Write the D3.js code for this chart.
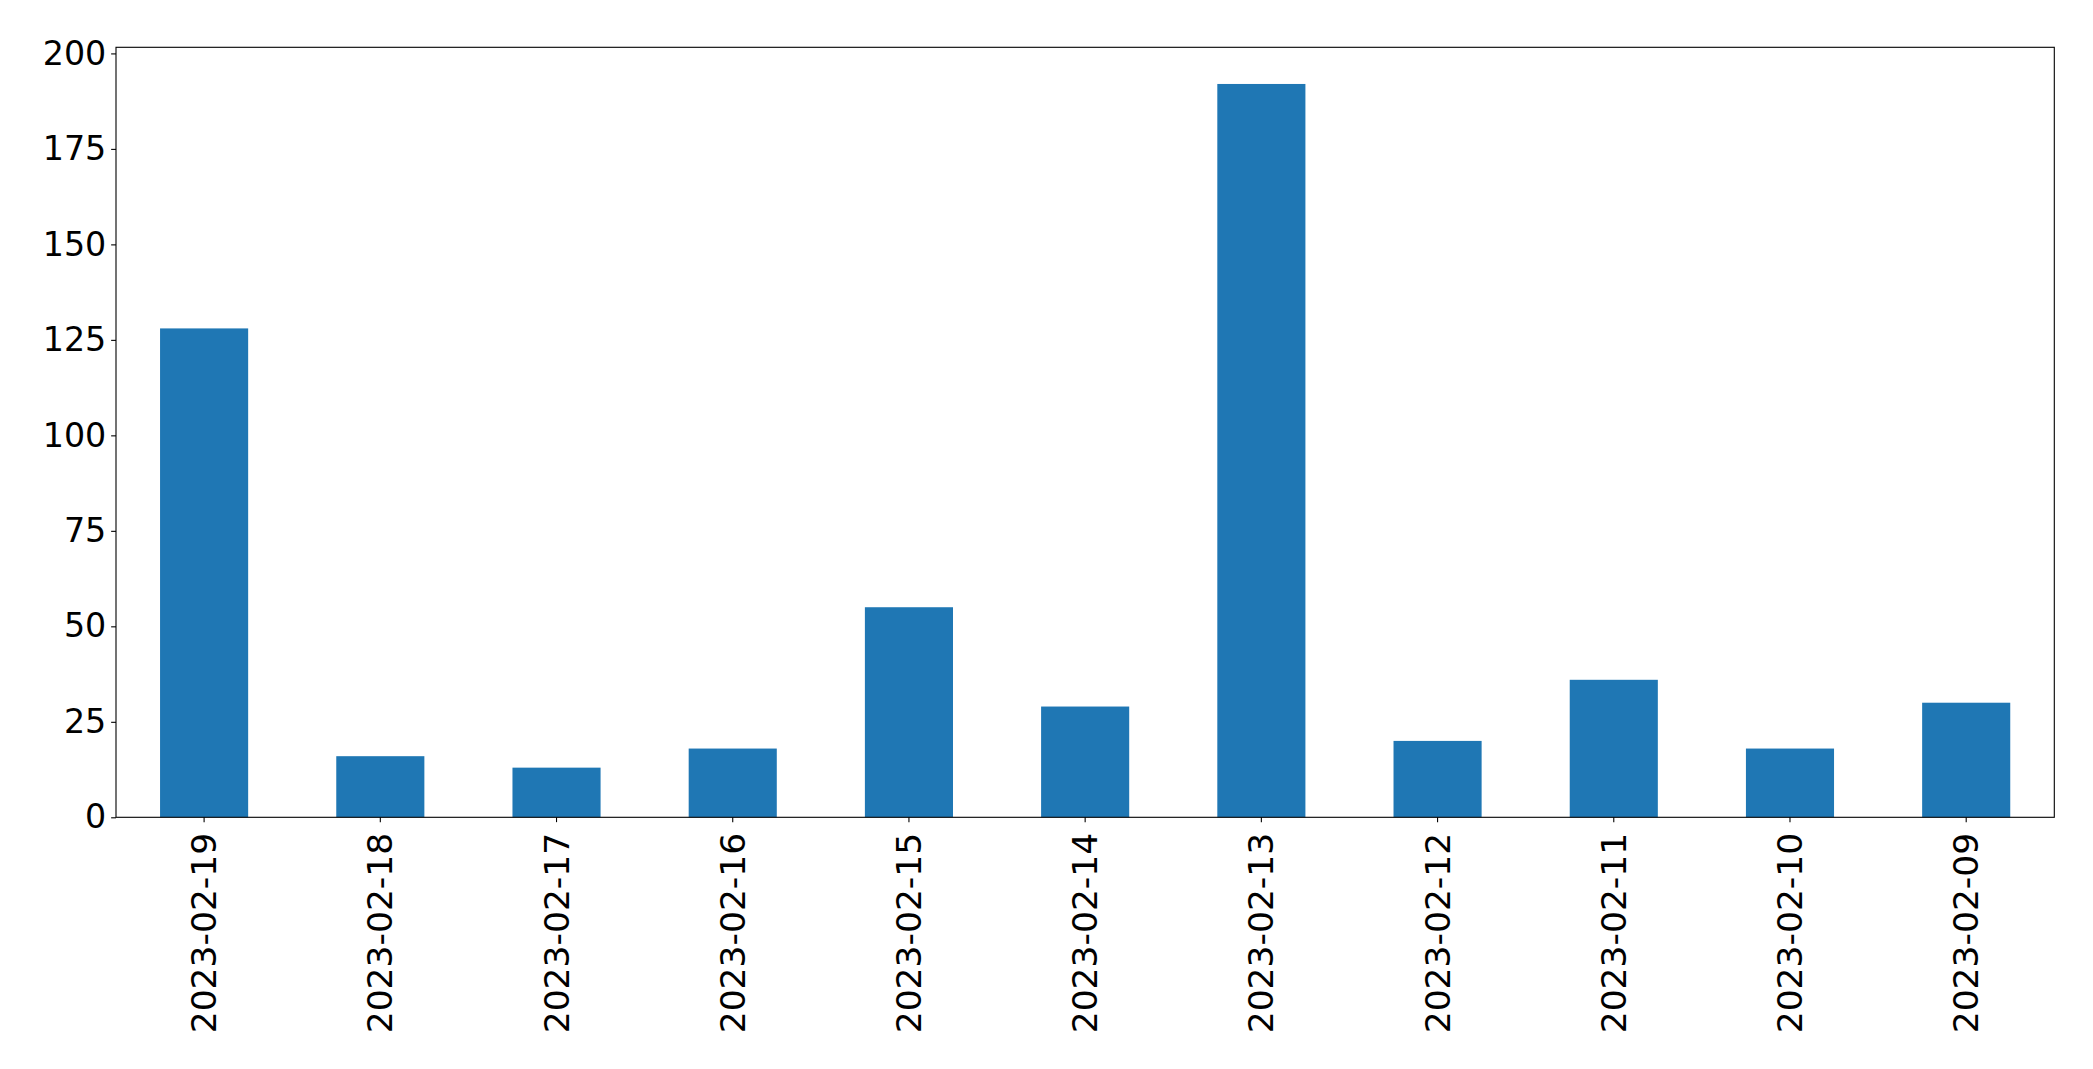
<!DOCTYPE html>
<html><head><meta charset="utf-8">
<script src="https://cdn.jsdelivr.net/npm/d3@7"></script>
<style>body{margin:0;background:#fff}svg{display:block}text{font-family:"DejaVu Sans",sans-serif}</style>
</head><body>
<script>
const categories = ["2023-02-19","2023-02-18","2023-02-17","2023-02-16","2023-02-15","2023-02-14","2023-02-13","2023-02-12","2023-02-11","2023-02-10","2023-02-09"];
const values = [128,16,13,18,55,29,192,20,36,18,30];
const yTicks = [0,25,50,75,100,125,150,175,200];

const W = 2093, H = 1069;
const m = {left:116, right:2054.3, top:47.3, bottom:817.3};
const svg = d3.select("body").append("svg").attr("width",W).attr("height",H);

const x = d3.scaleBand().domain(categories).range([m.left,m.right]).paddingInner(0.5).paddingOuter(0.25);
const y = d3.scaleLinear().domain([0, d3.max(values)*1.05]).range([m.bottom,m.top]);

svg.append("g").selectAll("rect").data(values).join("rect")
  .attr("x",(d,i)=>x(categories[i]))
  .attr("width",x.bandwidth())
  .attr("y",d=>y(d))
  .attr("height",d=>y(0)-y(d))
  .attr("fill","#1f77b4");

const tickLen = 4.86, pad = 4.86;
const fs = 33.3;

const ya = svg.append("g").attr("transform",`translate(${m.left},0)`)
  .call(d3.axisLeft(y).tickValues(yTicks).tickSize(tickLen).tickPadding(pad).tickFormat(d3.format("d")));
ya.select(".domain").remove();
ya.selectAll("line").attr("stroke","#000").attr("stroke-width",1.1);
ya.selectAll("text").attr("font-size",fs).attr("fill","#000").attr("font-family","DejaVu Sans");

const xa = svg.append("g").attr("transform",`translate(0,${m.bottom})`)
  .call(d3.axisBottom(x).tickSize(tickLen).tickPadding(pad));
xa.select(".domain").remove();
xa.selectAll("line").attr("stroke","#000").attr("stroke-width",1.1);
xa.selectAll("text").attr("font-size",34.5).attr("fill","#000").attr("font-family","DejaVu Sans")
  .attr("transform","rotate(-90)")
  .attr("x",-15.5).attr("y",0).attr("dy","0.35em")
  .attr("text-anchor","end");

svg.append("rect").attr("x",m.left).attr("y",m.top)
  .attr("width",m.right-m.left).attr("height",m.bottom-m.top)
  .attr("fill","none").attr("stroke","#000").attr("stroke-width",1.1);
</script>
</body></html>
